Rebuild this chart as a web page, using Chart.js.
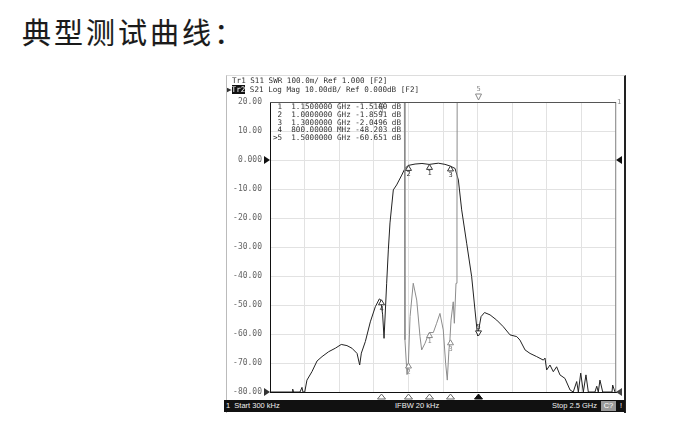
<!DOCTYPE html>
<html>
<head>
<meta charset="utf-8">
<script src="https://cdn.jsdelivr.net/npm/chart.js@4.4.1/dist/chart.umd.min.js"></script>
<style>
  body { margin: 0; background: #fff; }
  #wrap { position: relative; width: 685px; height: 441px; overflow: hidden; }
  #title { position: absolute; left: 22px; top: 17px; font: 400 29px/29px "Noto Sans CJK SC"; letter-spacing: 3px; color: #1a1a1a; -webkit-text-stroke: 0.15px #1a1a1a; }
  #frame { position: absolute; left: 226px; top: 75px; width: 397px; height: 337px; border-left: 1px solid #bbb; border-top: 1px solid #ddd; border-right: 2px solid #222; }
  canvas { position: absolute; left: 0; top: 0; }
  .mono { position: absolute; font-family: "DejaVu Sans Mono"; font-size: 7.6px; line-height: 7.8px; white-space: pre; color: #333; }
  .inv { background: #111; color: #fff; }
  #status { position: absolute; left: 224px; top: 400px; width: 401px; height: 12px; background: #111; color: #eee; font: 7.5px/12px "Liberation Sans"; }
  #status span { position: absolute; top: 0; white-space: pre; }
</style>
</head>
<body>
<div id="wrap">
  <div id="title">典型测试曲线：</div>
  <div id="frame"></div>
  <canvas id="myChart" width="685" height="441"></canvas>
  <div class="mono" id="hdr1" style="left:232px;top:77px">Tr1 S11 SWR 100.0m/ Ref 1.000 [F2]</div>
  <div class="mono" id="hdr2" style="left:227px;top:86px">&#9654;<span class="inv">Tr2</span> S21 Log Mag 10.00dB/ Ref 0.000dB [F2]</div>
  <div class="mono" id="table" style="left:273px;top:103px"></div>
  <div id="status">
    <span style="left:2px">1  Start 300 kHz</span>
    <span style="left:171px">IFBW 20 kHz</span>
    <span style="left:328px">Stop 2.5 GHz</span>
    <span style="left:377px;top:1px;height:10px;line-height:10px;width:15px;text-align:center;background:#999;color:#fff">C?</span>
    <span style="left:396px">!</span>
  </div>
</div>
<script>
(() => {
  "use strict";

  // S21 trace (Tr2), frequency in GHz, level in dB
  const s21Freq = [0, 0.159, 0.164, 0.17, 0.217, 0.231, 0.238, 0.251, 0.267, 0.303, 0.34, 0.376,
    0.424, 0.472, 0.515, 0.556, 0.592, 0.629, 0.648, 0.66, 0.689, 0.725, 0.761, 0.79, 0.8,
    0.814, 0.824, 0.843, 0.855, 0.867, 0.891, 0.915, 0.952, 0.975, 1.0, 1.048, 1.098, 1.15,
    1.216, 1.264, 1.3, 1.337, 1.361, 1.385, 1.421, 1.457, 1.481, 1.5, 1.525, 1.55, 1.59,
    1.638, 1.686, 1.734, 1.783, 1.806, 1.843, 1.879, 1.927, 1.975, 1.987, 1.999, 2.023,
    2.047, 2.071, 2.095, 2.131, 2.168, 2.191, 2.216, 2.228, 2.245, 2.264, 2.283, 2.3,
    2.348, 2.361, 2.372, 2.384, 2.404, 2.471, 2.476, 2.493, 2.5];
  const s21Db = [-80, -80, -79, -80, -80, -78.4, -80, -80, -75.9, -73, -69.3, -67.8,
    -66.1, -64.9, -63.6, -64, -64.9, -66.7, -70.7, -66.6, -62.6, -55.8, -50.6, -47.9, -48.203,
    -53.4, -61.5, -42.5, -31, -21.7, -10.3, -8.6, -5.2, -2.9, -1.8591, -1.4, -1.2, -1.518,
    -1.1, -1.5, -2.0496, -2.9, -6.9, -17.2, -28.7, -40.2, -51.7, -60.651, -54, -52.6, -53.4,
    -55.2, -57.5, -60.3, -60.9, -62.1, -65.5, -66.7, -67.8, -69, -68.3, -72.4, -70.7,
    -73, -71.3, -74.1, -75.3, -79.3, -80, -76.4, -80, -73.5, -80, -74.1, -80,
    -80, -78, -80, -75.9, -80, -80, -77.6, -80, -80];

  // S11 SWR trace (Tr1), shown in the same screen divisions; off-scale above the top
  const swrFreq = [0, 0.97, 0.975, 0.99, 1.0, 1.012, 1.035, 1.06, 1.084, 1.096, 1.12, 1.15,
    1.18, 1.204, 1.228, 1.252, 1.269, 1.281, 1.293, 1.3, 1.308, 1.324, 1.332, 1.344, 1.351,
    1.353, 2.5, 2.5];
  const swrDb = [40, 40, -62, -74, -70, -54, -42.5, -48.3, -60.9, -65.5, -63.2, -59.5,
    -59.5, -56.3, -52.9, -58.6, -70.1, -75.9, -65.5, -62, -55.2, -48.9, -56.3, -42.5, -20,
    40, 40, -80];

  // markers
  const markerNames = ["1", "2", "3", "4", ">5"];
  const markerFreq = [1.15, 1.0, 1.3, 0.8, 1.5];
  const markerS21 = [-1.518, -1.8591, -2.0496, -48.203, -60.651];
  const markerSwr = [-59.5, -70, -62, null, null];
  const activeMarker = 4;

  const yTickValues = [20, 10, 0, -10, -20, -30, -40, -50, -60, -70, -80];
  const yTickLabels = ["20.00", "10.00", "0.000", "-10.00", "-20.00", "-30.00",
    "-40.00", "-50.00", "-60.00", "-70.00", "-80.00"];

  // marker readout table
  const rows = markerNames.map((n, i) => {
    const f = markerFreq[i] >= 1 ? markerFreq[i].toFixed(7) + " GHz" : (markerFreq[i] * 1000).toFixed(5) + " MHz";
    return (n.length < 2 ? " " + n : n) + "  " + f + " " + markerS21[i].toPrecision(5) + " dB";
  });
  document.getElementById("table").textContent = rows.join("\n");

  function tri(ctx, cx, cy, w, h, up, fill, color) {
    // apex at (cx, cy)
    const by = up ? cy + h : cy - h;
    ctx.beginPath();
    ctx.moveTo(cx, cy);
    ctx.lineTo(cx - w / 2, by);
    ctx.lineTo(cx + w / 2, by);
    ctx.closePath();
    ctx.fillStyle = fill ? color : "#fff";
    ctx.fill();
    ctx.strokeStyle = color;
    ctx.lineWidth = 1;
    ctx.stroke();
  }

  function sideArrow(ctx, tipX, cy, right, color) {
    ctx.beginPath();
    ctx.moveTo(tipX, cy);
    ctx.lineTo(right ? tipX - 6 : tipX + 6, cy - 4);
    ctx.lineTo(right ? tipX - 6 : tipX + 6, cy + 4);
    ctx.closePath();
    ctx.fillStyle = color;
    ctx.fill();
  }

  const vnaMarks = {
    id: "vnaMarks",
    afterDatasetsDraw(chart) {
      const { ctx, chartArea: a, scales: { x, y } } = chart;
      ctx.save();
      // top border of the grid
      ctx.strokeStyle = "#555";
      ctx.lineWidth = 1;
      ctx.beginPath();
      ctx.moveTo(a.left, a.top + 0.5);
      ctx.lineTo(a.right, a.top + 0.5);
      ctx.stroke();

      ctx.font = "7px 'DejaVu Sans Mono'";
      ctx.textAlign = "center";
      ctx.textBaseline = "middle";

      markerFreq.forEach((f, i) => {
        const px = Math.round(x.getPixelForValue(f)) + 0.5;
        const num = String(i + 1);
        const act = i === activeMarker;
        // S21 markers
        const py = y.getPixelForValue(markerS21[i]);
        tri(ctx, px, py, 6, 5, !act, false, "#333");
        ctx.fillStyle = "#333";
        ctx.fillText(num, px, act ? py - 9 : py + 9);
        // SWR markers (off-scale ones sit on the top edge)
        const sv = markerSwr[i];
        const sy = sv === null ? a.top : y.getPixelForValue(sv);
        if (sv === null && act) {
          tri(ctx, px, a.top - 2, 6, 6, false, false, "#888");
          ctx.fillStyle = "#888";
          ctx.fillText(num, px, a.top - 13);
        } else {
          tri(ctx, px, sy, 6, 5, true, false, "#888");
          ctx.fillStyle = "#888";
          ctx.fillText(num, px, sy + 9);
        }
        // marker position row under the grid
        tri(ctx, px, a.bottom + 2, 8, 5, true, act, act ? "#111" : "#666");
      });

      // reference arrows
      const y0 = y.getPixelForValue(0);
      const yb = y.getPixelForValue(-80);
      sideArrow(ctx, a.left, y0, true, "#111");
      sideArrow(ctx, a.left, yb, true, "#333");
      sideArrow(ctx, a.right, y0, false, "#111");
      sideArrow(ctx, a.right, yb, false, "#444");
      ctx.fillStyle = "#888";
      ctx.textAlign = "left";
      ctx.fillText("1", a.right + 1, a.top);
      ctx.restore();
    },
  };

  const chartEl = document.getElementById("myChart");
  // eslint-disable-next-line no-unused-vars
  const myChart = new Chart(chartEl, {
    type: "scatter",
    data: {
      datasets: [
        {
          label: "Tr1 S11 SWR",
          data: swrFreq.map((f, i) => ({ x: f, y: swrDb[i] })),
          showLine: true,
          borderColor: "#8c8c8c",
          borderWidth: 1,
          pointRadius: 0,
          tension: 0,
        },
        {
          label: "Tr2 S21 Log Mag",
          data: s21Freq.map((f, i) => ({ x: f, y: s21Db[i] })),
          showLine: true,
          borderColor: "#222",
          borderWidth: 1,
          pointRadius: 0,
          tension: 0,
        },
      ],
    },
    options: {
      responsive: false,
      animation: false,
      devicePixelRatio: 1,
      layout: { padding: { left: 220, top: 102, right: 69, bottom: 49 } },
      plugins: {
        legend: { display: false },
        tooltip: { enabled: false },
      },
      scales: {
        x: {
          type: "linear",
          min: 0,
          max: 2.5,
          ticks: { display: false, stepSize: 0.25 },
          grid: { color: "#e2e2e2", drawTicks: false },
          border: { color: "#111" },
          afterFit: (s) => { s.height = 0; },
        },
        y: {
          min: -80,
          max: 20,
          ticks: {
            stepSize: 10,
            padding: 8,
            color: "#666",
            font: { family: "DejaVu Sans Mono", size: 8 },
            callback: (v) => yTickLabels[yTickValues.indexOf(v)],
          },
          grid: { color: "#e2e2e2", drawTicks: false },
          border: { color: "#111" },
          afterFit: (s) => { s.width = 50; },
        },
      },
    },
    plugins: [vnaMarks],
  });
})();
</script>
</body>
</html>
